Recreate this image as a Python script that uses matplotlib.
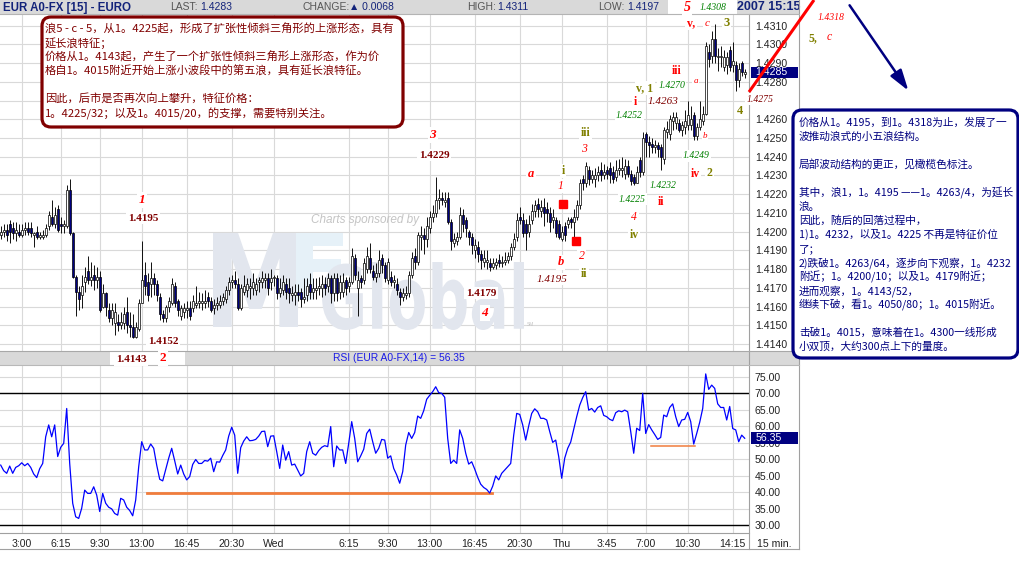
import numpy as np
import matplotlib
matplotlib.use("Agg")
import matplotlib.pyplot as plt
from matplotlib.patches import Rectangle, FancyBboxPatch, FancyArrowPatch, PathPatch
from matplotlib.lines import Line2D
from matplotlib.textpath import TextPath
from matplotlib.font_manager import FontProperties
from matplotlib.transforms import Affine2D, blended_transform_factory

plt.rcParams['font.family'] = ['Liberation Sans', 'DejaVu Sans']
CJK = ['Noto Sans CJK SC', 'DejaVu Sans']
SERIF = ['Liberation Serif', 'DejaVu Serif']

# ---- data: EUR A0-FX 15 min bars, Tue 01:15 -> Thu 15:15 ----
# bar index counted from Tue 00:00 (4 bars per hour); prices in pips above 1.4100
first_bar = 5
opens = [98, 100, 101, 104, 102, 99, 100, 98, 101, 102,
         102, 98, 100, 97, 97, 98, 103, 108, 104, 112,
         104, 103, 103, 122, 99, 76, 68, 66, 73, 79,
         74, 77, 74, 76, 60, 67, 58, 54, 51, 52,
         50, 51, 57, 50, 49, 44, 48, 62, 77, 73,
         72, 75, 72, 65, 56, 54, 60, 62, 71, 63,
         55, 57, 58, 59, 59, 61, 62, 62, 62, 65,
         63, 59, 61, 61, 63, 64, 69, 73, 74, 72,
         59, 68, 69, 70, 70, 69, 73, 73, 74, 75,
         73, 75, 75, 67, 69, 72, 70, 66, 66, 68,
         68, 64, 66, 72, 68, 69, 70, 70, 72, 71,
         75, 67, 75, 68, 68, 74, 71, 73, 86, 70,
         75, 74, 80, 86, 79, 76, 78, 86, 82, 74,
         76, 73, 72, 68, 65, 66, 67, 77, 87, 84,
         97, 98, 96, 102, 108, 110, 117, 118, 116, 118,
         105, 94, 95, 97, 109, 106, 100, 97, 90, 92,
         88, 84, 84, 83, 81, 82, 85, 83, 84, 85,
         87, 92, 97, 108, 106, 104, 100, 106, 111, 115,
         111, 113, 112, 110, 106, 106, 104, 96, 103, 104,
         107, 105, 108, 114, 128, 126, 133, 128, 128, 130,
         133, 130, 133, 134, 132, 129, 133, 133, 131, 135,
         131, 129, 126, 138, 132, 152, 148, 147, 145, 146,
         145, 139, 153, 152, 159, 158, 158, 154, 156, 157,
         157, 162, 151, 156, 159, 163, 196, 194, 203, 193,
         193, 188, 189, 197, 189, 189, 181, 190, 184]
highs = [103, 104, 104, 106, 105, 105, 104, 104, 105, 105,
         105, 100, 103, 100, 101, 104, 111, 117, 113, 114,
         108, 106, 125, 128, 100, 77, 71, 77, 81, 87,
         84, 82, 81, 79, 72, 68, 62, 62, 62, 56,
         57, 60, 65, 57, 56, 52, 64, 95, 84, 78,
         84, 78, 74, 67, 58, 61, 65, 75, 73, 64,
         61, 62, 63, 63, 66, 71, 68, 67, 69, 68,
         65, 64, 65, 66, 67, 71, 76, 77, 79, 75,
         72, 77, 75, 75, 78, 75, 76, 79, 78, 78,
         80, 77, 77, 75, 77, 75, 75, 71, 72, 72,
         70, 75, 75, 78, 75, 75, 76, 77, 76, 78,
         77, 78, 78, 77, 78, 76, 76, 91, 88, 79,
         77, 86, 92, 94, 82, 83, 90, 88, 84, 86,
         79, 77, 75, 70, 70, 71, 79, 89, 91, 100,
         103, 102, 108, 111, 114, 129, 123, 121, 121, 121,
         107, 99, 100, 113, 112, 108, 101, 99, 96, 95,
         90, 90, 90, 86, 86, 86, 88, 87, 89, 89,
         94, 99, 110, 113, 110, 107, 109, 115, 117, 118,
         117, 118, 116, 113, 112, 108, 106, 103, 105, 108,
         108, 112, 117, 128, 130, 137, 135, 133, 134, 135,
         137, 136, 135, 137, 135, 138, 139, 140, 139, 138,
         133, 131, 135, 140, 153, 153, 151, 150, 149, 148,
         147, 156, 159, 162, 164, 164, 160, 159, 165, 170,
         167, 164, 158, 170, 167, 201, 200, 207, 211, 198,
         199, 197, 196, 199, 201, 191, 190, 191, 187]
lows = [96, 97, 95, 94, 96, 95, 97, 97, 98, 98,
        97, 92, 96, 96, 96, 97, 101, 103, 102, 100,
        99, 99, 102, 98, 75, 55, 58, 59, 68, 72,
        71, 69, 70, 57, 59, 55, 52, 50, 45, 47,
        48, 48, 46, 44, 43, 43, 47, 62, 66, 63,
        65, 66, 63, 53, 52, 52, 57, 61, 60, 55,
        53, 54, 54, 53, 57, 59, 59, 58, 59, 60,
        57, 56, 58, 59, 61, 62, 66, 70, 70, 58,
        58, 66, 65, 64, 66, 66, 68, 70, 70, 66,
        69, 71, 64, 65, 66, 64, 62, 63, 61, 63,
        60, 62, 63, 64, 64, 64, 66, 65, 66, 68,
        62, 63, 63, 64, 65, 66, 68, 72, 74, 55,
        70, 72, 78, 78, 74, 73, 76, 78, 73, 72,
        71, 70, 66, 61, 63, 64, 65, 75, 80, 82,
        90, 88, 92, 99, 105, 108, 112, 114, 113, 104,
        90, 92, 93, 96, 100, 97, 93, 88, 86, 84,
        80, 81, 80, 79, 80, 80, 81, 81, 82, 83,
        85, 90, 95, 104, 97, 90, 97, 104, 108, 108,
        108, 103, 105, 100, 102, 97, 96, 95, 95, 102,
        102, 97, 106, 112, 122, 124, 125, 126, 124, 127,
        127, 128, 128, 126, 126, 127, 130, 129, 128, 129,
        125, 125, 126, 129, 130, 140, 140, 142, 142, 140,
        133, 136, 150, 149, 154, 155, 153, 151, 152, 154,
        154, 149, 149, 154, 157, 162, 188, 190, 190, 186,
        188, 186, 184, 186, 185, 175, 177, 183, 182]
closes = [100, 101, 98, 100, 99, 101, 98, 101, 102, 100,
          99, 99, 97, 98, 98, 102, 109, 104, 109, 101,
          103, 104, 122, 99, 76, 68, 64, 71, 76, 74,
          76, 74, 76, 58, 67, 60, 54, 58, 57, 50,
          52, 56, 50, 49, 44, 49, 62, 74, 71, 66,
          75, 72, 66, 56, 54, 60, 63, 72, 62, 58,
          59, 59, 59, 55, 63, 62, 63, 63, 63, 63,
          58, 61, 62, 63, 65, 69, 73, 74, 72, 59,
          70, 71, 72, 71, 73, 72, 74, 75, 75, 70,
          75, 76, 67, 70, 73, 68, 67, 67, 68, 66,
          64, 65, 71, 68, 70, 70, 71, 72, 70, 75,
          67, 75, 67, 73, 73, 70, 73, 87, 77, 74,
          73, 83, 87, 80, 76, 78, 85, 82, 75, 84,
          73, 74, 69, 65, 67, 67, 77, 86, 84, 98,
          98, 96, 103, 108, 110, 117, 118, 117, 117, 105,
          95, 96, 97, 109, 104, 102, 97, 93, 93, 88,
          85, 86, 85, 81, 83, 84, 83, 84, 85, 87,
          92, 96, 106, 106, 99, 99, 104, 111, 114, 112,
          113, 110, 110, 105, 108, 99, 97, 100, 98, 106,
          105, 108, 114, 126, 126, 135, 128, 130, 130, 132,
          130, 132, 131, 130, 128, 133, 134, 134, 135, 131,
          127, 126, 132, 132, 150, 148, 146, 145, 146, 144,
          140, 154, 155, 160, 161, 161, 154, 157, 159, 162,
          160, 151, 156, 160, 163, 199, 192, 203, 194, 194,
          194, 193, 193, 188, 191, 181, 187, 185, 185]
rsi = [48.2, 46.5, 45.7, 47.9, 45.7, 47.5, 48.0, 48.9, 48.0, 48.7,
       47.5, 45.5, 44.4, 47.1, 48.7, 56.8, 60.4, 56.8, 60.4, 50.8,
       53.6, 54.8, 65.4, 48.7, 36.6, 32.5, 32.0, 35.1, 40.6, 39.6,
       39.6, 41.6, 39.1, 34.1, 39.6, 36.6, 35.4, 34.9, 33.5, 33.0,
       38.1, 37.6, 35.4, 34.4, 32.8, 37.6, 47.7, 55.3, 52.8, 52.8,
       54.6, 53.3, 48.2, 43.9, 43.4, 46.9, 50.3, 53.3, 49.5, 45.5,
       48.2, 45.5, 43.7, 44.7, 48.4, 49.9, 48.7, 48.7, 49.6, 49.4,
       50.3, 46.2, 49.2, 49.1, 51.1, 52.8, 57.0, 59.7, 57.3, 45.7,
       53.5, 55.5, 56.8, 55.6, 55.7, 56.0, 57.0, 58.4, 58.5, 53.8,
       57.0, 57.1, 52.3, 47.2, 54.3, 49.7, 52.3, 48.2, 48.5, 46.7,
       44.9, 45.7, 52.3, 55.3, 51.8, 51.2, 52.6, 53.6, 54.1, 53.8,
       59.9, 47.7, 54.0, 52.8, 52.8, 48.7, 54.8, 61.4, 56.3, 49.2,
       51.0, 53.0, 57.8, 59.1, 55.3, 51.8, 53.3, 56.0, 55.8, 50.3,
       51.0, 47.2, 45.2, 42.7, 46.2, 54.3, 58.1, 56.3, 58.1, 63.1,
       62.4, 64.7, 68.2, 69.4, 70.5, 72.0, 70.2, 70.0, 68.8, 56.3,
       48.7, 49.7, 48.7, 58.9, 56.3, 51.8, 48.5, 49.2, 47.0, 44.5,
       42.4, 41.4, 40.8, 39.7, 41.8, 44.9, 43.7, 45.7, 46.7, 47.7,
       48.7, 57.3, 63.9, 63.6, 60.4, 55.8, 60.1, 63.9, 65.3, 64.4,
       62.4, 62.4, 61.9, 58.4, 55.1, 55.8, 50.8, 44.2, 50.3, 53.3,
       55.2, 59.1, 62.9, 66.4, 68.7, 70.5, 64.9, 65.4, 64.3, 65.7,
       66.2, 63.3, 62.9, 62.1, 61.7, 64.1, 64.7, 64.4, 64.9, 64.4,
       58.4, 51.8, 59.4, 58.7, 70.0, 57.8, 60.5, 58.9, 57.5, 56.0,
       56.6, 63.4, 62.9, 65.7, 66.8, 62.9, 59.9, 61.9, 62.1, 64.2,
       61.4, 54.6, 57.8, 61.2, 65.4, 75.9, 71.2, 72.5, 71.5, 66.8,
       65.7, 65.7, 61.9, 66.0, 59.3, 58.9, 55.3, 57.3, 56.35]

time_ticks = [12, 25, 38, 52, 67, 82, 96, 121, 134, 148, 163, 178, 192, 207, 220, 234, 249]
time_labels = ['3:00', '6:15', '9:30', '13:00', '16:45', '20:30', 'Wed', '6:15', '9:30',
               '13:00', '16:45', '20:30', 'Thu', '3:45', '7:00', '10:30', '14:15']
price_ticks = [1.4140, 1.4150, 1.4160, 1.4170, 1.4180, 1.4190, 1.4200, 1.4210, 1.4220,
               1.4230, 1.4240, 1.4250, 1.4260, 1.4270, 1.4280, 1.4290, 1.4300, 1.4310]
hidden_price_labels = [1.4270]   # covered by the 1.4275 note in the original
rsi_ticks = [30, 35, 40, 45, 50, 55, 60, 65, 70, 75]
last_price = 1.4285
last_rsi = 56.35
# red squares on the price chart
mark_bar = [192.4, 196.7]
mark_price = [1.4215, 1.4195]
# orange support lines on the RSI
sup_start = [53.7, 221.7]
sup_end = [168.7, 236.4]
sup_level = [39.6, 54.0]
sup_width = [2.0, 1.1]

red_box_lines = ['浪5 - c - 5，从1。4225起，形成了扩张性倾斜三角形的上涨形态，具有',
                 '延长浪特征；',
                 '价格从1。4143起，产生了一个扩张性倾斜三角形上涨形态，作为价',
                 '格自1。4015附近开始上涨小波段中的第五浪，具有延长浪特征。',
                 '',
                 '因此，后市是否再次向上攀升，特征价格：',
                 '1。4225/32；以及1。4015/20，的支撑，需要特别关注。']
blue_box_lines = ['价格从1。4195，到1。4318为止，发展了一',
                  '波推动浪式的小五浪结构。',
                  '',
                  '局部波动结构的更正，见橄榄色标注。',
                  '',
                  '其中，浪1，1。4195 ——1。4263/4，为延长',
                  '浪。',
                  '因此，随后的回落过程中，',
                  '1)1。4232，以及1。4225 不再是特征价位',
                  '了；',
                  '2)跌破1。4263/64，逐步向下观察，1。4232',
                  '附近；1。4200/10；以及1。4179附近；',
                  '进而观察，1。4143/52，',
                  '继续下破，看1。4050/80；1。4015附近。',
                  '',
                  '击破1。4015，意味着在1。4300一线形成',
                  '小双顶，大约300点上下的量度。']

R, DR, G, OL = '#ff0000', '#800000', '#008000', '#808000'
# wave labels: x, y (pixels), text, colour, size, italic, bold
wave_labels = [
    (141.7, 200, '1', R, 9.5, True, True),
    (143, 218, '1.4195', DR, 8, False, True),
    (163, 341, '1.4152', DR, 8, False, True),
    (131, 360, '1.4143', DR, 8, False, True),
    (163, 358, '2', R, 9.5, False, True),
    (432.7, 135, '3', R, 9.5, True, True),
    (434, 155, '1.4229', DR, 8, False, True),
    (481, 293, '1.4179', DR, 8, False, True),
    (485, 313, '4', R, 9.5, True, True),
    (531, 174, 'a', R, 9, True, True),
    (563, 171, 'i', OL, 8.5, False, True),
    (561, 186, '1', R, 8.5, True, False),
    (584.3, 149, '3', R, 8.5, True, False),
    (585.7, 133, 'iii', OL, 8.5, False, True),
    (581.7, 256, '2', R, 8.5, True, False),
    (560.7, 262, 'b', R, 9, True, True),
    (584, 274, 'ii', OL, 8.5, False, True),
    (552.3, 279, '1.4195', DR, 8, True, False),
    (632.3, 199, '1.4225', G, 7, True, False),
    (634.3, 217, '4', R, 8.5, True, False),
    (634, 235, 'iv', OL, 8.5, False, True),
    (663.3, 185, '1.4232', G, 7, True, False),
    (661, 202, 'ii', R, 8.5, False, True),
    (696.3, 156, '1.4249', G, 7, True, False),
    (695, 174, 'iv', R, 8.5, False, True),
    (709.3, 173, '2', OL, 8.5, False, True),
    (705, 136, 'b', R, 6.5, True, False),
    (629.3, 116, '1.4252', G, 7, True, False),
    (635, 102, 'i', R, 8.5, False, True),
    (663.3, 101, '1.4263', DR, 8, True, False),
    (645, 88, 'v, 1', OL, 8.5, False, True),
    (671.7, 85, '1.4270', G, 7, True, False),
    (676.7, 71, 'iii', R, 8.5, False, True),
    (695.7, 81, 'a', R, 6.5, True, False),
    (691, 23, 'v,', R, 8.5, False, True),
    (706.7, 23, 'c', R, 8, True, False),
    (726.7, 23, '3', OL, 9, False, True),
    (687.3, 7.5, '5', R, 10, True, True),
    (713.3, 7.5, '1.4308', G, 7, True, False),
    (760, 99, '1.4275', DR, 7, True, False),
    (740, 111, '4', OL, 9, False, True),
    (831, 17, '1.4318', R, 7, True, False),
    (813, 38, '5,', OL, 8.5, False, True),
    (829, 37, 'c', R, 8.5, True, False),
]

# ---- figure ----
W, H = 1020, 583
fig = plt.figure(figsize=(W / 100, H / 100), dpi=100)
pix = Affine2D().scale(1 / W, 1 / H) + fig.transFigure   # pixel units, y up


def fx(x):
    return x / W


def fy(y):
    return 1 - y / H


def hline(x0, x1, y, color='#a0a0a0', lw=0.8, z=4):
    fig.add_artist(Line2D([x0, x1], [H - y, H - y], transform=pix, color=color, lw=lw, zorder=z))


def vline(x, y0, y1, color='#a0a0a0', lw=0.8, z=4):
    fig.add_artist(Line2D([x, x], [H - y0, H - y1], transform=pix, color=color, lw=lw, zorder=z))


def rect(x0, y0, x1, y1, fc, z=1):
    fig.add_artist(Rectangle((x0, H - y1), x1 - x0, y1 - y0, transform=pix, fc=fc, ec='none', zorder=z))


plot_w = 749.3
ax = fig.add_axes([0, fy(351), plot_w / W, (351 - 14) / H])
rax = fig.add_axes([0, fy(533), plot_w / W, (533 - 364) / H])

t = np.arange(first_bar, first_bar + len(opens))
o = 1.41 + np.array(opens) / 10000
hi = 1.41 + np.array(highs) / 10000
lo = 1.41 + np.array(lows) / 10000
c = 1.41 + np.array(closes) / 10000

# candles
ax.vlines(t, lo, hi, color='black', lw=0.65, zorder=2)
up = c >= o
body_bottom = np.minimum(o, c)
body_height = np.maximum(np.abs(c - o), 0.00003)
body_color = np.where(up, 'white', '#000080')
ax.bar(t, body_height, bottom=body_bottom, width=0.7, color=body_color,
       edgecolor='black', linewidth=0.5, zorder=3)
ax.plot(mark_bar, mark_price, 's', color='red', ms=5.5, zorder=6, clip_on=False)


# watermark
def stretch_text(s, box, color, z, weight='bold'):
    x0, y0, x1, y1 = box
    tp = TextPath((0, 0), s, size=100, prop=FontProperties(family='DejaVu Sans', weight=weight))
    e = tp.get_extents()
    tr = (Affine2D().translate(-e.x0, -e.y0)
          .scale((x1 - x0) / e.width, (y1 - y0) / e.height)
          .translate(x0, H - y1) + pix)
    ax.add_patch(PathPatch(tp, transform=tr, fc=color, ec='none', zorder=z))


stretch_text('M', (213, 233, 298, 327), '#e2e6ee', 1)
stretch_text('F', (296, 233, 343, 300), '#e6f1f8', 1)
stretch_text('Global', (322, 262, 524, 330), '#e2e6ee', 1.1)
ax.text(311, H - 220, 'Charts sponsored by', transform=pix, fontsize=8.5, style='italic',
        color='#c4c4c4', va='center', ha='left', zorder=1.2)
ax.text(527, H - 325, 'SM', transform=pix, fontsize=3.5, color='#c4c4c4', va='center', zorder=1.2)

ax.set_xlim(4.767, 254.53)
ax.set_ylim(1.413626, 1.431619)
ax.set_axisbelow(True)
ax.grid(True, color='#d9d9d9', lw=0.8)
ax.set_xticks(time_ticks)
ax.set_yticks(price_ticks)
ax.set_yticklabels(['' if p in hidden_price_labels else '%.4f' % p for p in price_ticks])
ax.yaxis.tick_right()
ax.tick_params(axis='x', length=0, labelbottom=False)
ax.tick_params(axis='y', length=0, pad=4, labelsize=7.6, labelcolor='#222222')
for s in ax.spines.values():
    s.set_visible(False)

bt = blended_transform_factory(ax.transAxes, ax.transData)
ax.add_patch(Rectangle((1 + 2 / plot_w, last_price - 0.00031), 47 / plot_w, 0.00062,
                       transform=bt, fc='#000080', ec='none', clip_on=False, zorder=5))
ax.text(1 + 6 / plot_w, last_price, '%.4f' % last_price, transform=bt, color='white',
        fontsize=7.6, va='center', ha='left', clip_on=False, zorder=6)

# RSI
rax.plot(t, rsi, color='#0000ff', lw=0.9, zorder=3)
for a, b, lvl, lw in zip(sup_start, sup_end, sup_level, sup_width):
    rax.plot([a, b], [lvl, lvl], color='#f07c3c', lw=lw, zorder=2.5)
rax.axhline(70, color='black', lw=1.0, zorder=2)
rax.axhline(30, color='black', lw=1.0, zorder=2)
rax.set_xlim(4.767, 254.53)
rax.set_ylim(27.57, 78.91)
rax.set_axisbelow(True)
rax.grid(True, color='#d9d9d9', lw=0.8)
rax.set_xticks(time_ticks)
rax.set_xticklabels(time_labels)
rax.set_yticks(rsi_ticks)
rax.set_yticklabels(['%.2f' % v for v in rsi_ticks])
rax.yaxis.tick_right()
rax.tick_params(axis='x', length=0, pad=4, labelsize=7.6, labelcolor='#222222')
rax.tick_params(axis='y', length=0, pad=4, labelsize=7.6, labelcolor='#222222')
for s in rax.spines.values():
    s.set_visible(False)
bt2 = blended_transform_factory(rax.transAxes, rax.transData)
rax.add_patch(Rectangle((1 + 2 / plot_w, last_rsi - 1.87), 47 / plot_w, 3.74,
                        transform=bt2, fc='#000080', ec='none', clip_on=False, zorder=5))
rax.text(1 + 6 / plot_w, last_rsi, '%.2f' % last_rsi, transform=bt2, color='white',
         fontsize=7.6, va='center', ha='left', clip_on=False, zorder=6)
fig.text(fx(757), fy(544), '15 min.', fontsize=7.6, color='#222222', va='center', ha='left')

# frame lines
hline(0, plot_w, 533)
hline(0, 799, 549)
vline(plot_w, 14, 549)
vline(799, 0, 549)

# header bars
rect(0, 0, 799, 14, '#d9d9d9', z=1)
hline(0, 799, 14, color='#b4b4b4')
rect(668, 0, 737, 14, 'white', z=1.2)
rect(0, 351, 799, 364.5, '#d9d9d9', z=1)
hline(0, 799, 351, color='#a8a8a8')
hline(0, 799, 364.5, color='#b8b8b8')
rect(110, 351, 185, 365, 'white', z=1.2)

NAVY_T = '#13237a'
fig.text(fx(3), fy(7.5), 'EUR A0-FX [15] - EURO', fontsize=8.3, weight='bold', color=NAVY_T,
         va='center', ha='left')
for x, s, col in [(170, 'LAST:', '#555555'), (200, '1.4283', NAVY_T),
                  (303, 'CHANGE:', '#555555'), (349, '\u25b2 0.0068', NAVY_T),
                  (467, 'HIGH:', '#555555'), (497, '1.4311', NAVY_T),
                  (598, 'LOW:', '#555555'), (627, '1.4197', NAVY_T)]:
    fig.text(fx(x), fy(7.5), s, fontsize=7.5, color=col, va='center', ha='left')
fig.text(fx(737), fy(7.5), '2007 15:15', fontsize=9, weight='bold', color=NAVY_T,
         va='center', ha='left', zorder=3.5)
fig.text(fx(398.5), fy(358), 'RSI (EUR A0-FX,14) = 56.35', fontsize=7.4, color='#1a1ae6',
         va='center', ha='center')

# wave labels
for x, y, s, col, size, italic, bold in wave_labels:
    fig.text(fx(x), fy(y), s, fontsize=size, color=col, family=SERIF,
             style='italic' if italic else 'normal', weight='bold' if bold else 'normal',
             va='center', ha='center', zorder=5,
             bbox=dict(boxstyle='square,pad=0.12', fc='white', ec='none'))

# projection line and arrow
fig.add_artist(Line2D([749, 814], [H - 92, H - 0], transform=pix, color='red', lw=2.2,
                      zorder=6, solid_capstyle='butt'))
fig.add_artist(FancyArrowPatch((848, H - 3), (910, H - 93), transform=pix,
                               arrowstyle='-|>,head_length=0.9,head_width=0.28',
                               mutation_scale=14, color='#000080', lw=1.8, zorder=6))

# comment boxes
fig.add_artist(FancyBboxPatch((42, H - 127), 361, 110, transform=pix,
                              boxstyle='round,pad=0,rounding_size=9', fc='white',
                              ec='#800000', lw=2.3, zorder=7))
for i, line in enumerate(red_box_lines):
    fig.text(fx(45), fy(29.5 + 14 * i), line, fontsize=8.1, color='#800000', family=CJK,
             va='center', ha='left', zorder=8)

fig.add_artist(FancyBboxPatch((793, H - 358), 225, 248, transform=pix,
                              boxstyle='round,pad=0,rounding_size=9', fc='white',
                              ec='#000080', lw=2.3, zorder=7))
for i, line in enumerate(blue_box_lines):
    fig.text(fx(799), fy(122.7 + 14 * i), line, fontsize=7.7, color='#000080', family=CJK,
             va='center', ha='left', zorder=8)

fig.savefig('out.png', dpi=100)
